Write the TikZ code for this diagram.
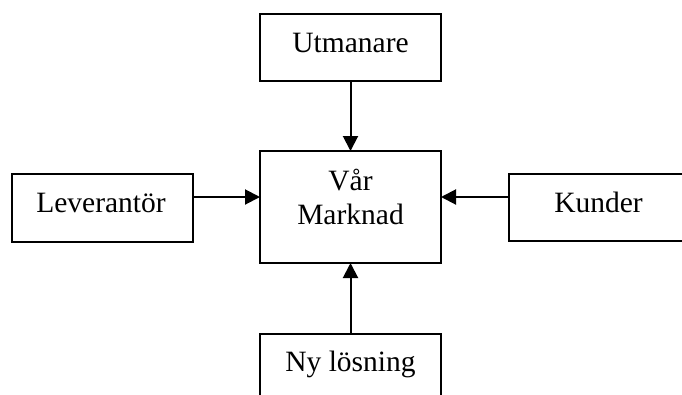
\documentclass[tikz,border=0pt]{standalone}
\usepackage{fontspec}
\setmainfont{Liberation Serif}
\usetikzlibrary{arrows.meta}
\begin{document}
\begin{tikzpicture}[x=1pt,y=-1pt,
  box/.style={draw=black,line width=2pt,inner sep=0pt,outer sep=0pt},
  lbl/.style={inner sep=0pt,outer sep=0pt,anchor=base,
    font=\fontsize{29.5}{34}\selectfont},
  arr/.style={line width=2pt,-{Triangle[length=15pt,width=15pt]}}]
  \useasboundingbox (0,0) rectangle (682,394);
  \clip (0,0) rectangle (682,394);
  % boxes
  \node[box,minimum width=181pt,minimum height=67pt] (U) at (350.5,47.5) {};
  \node[box,minimum width=181pt,minimum height=112pt] (C) at (350.5,207) {};
  \node[box,minimum width=181pt,minimum height=68pt] (L) at (102.5,208) {};
  \node[box,minimum width=180pt,minimum height=67pt] (K) at (599,207.5) {};
  \node[box,minimum width=181pt,minimum height=80pt] (N) at (350.5,374) {};
  % labels
  \node[lbl] (Ut) at (350.5,52) {Utmanare};
  \node[lbl] (Cv) at (350.5,190) {Vår};
  \node[lbl] (Cm) at (350.5,224) {Marknad};
  \node[lbl] (Lt) at (101,212) {Leverantör};
  \node[lbl] (Kt) at (598.5,212) {Kunder};
  \node[lbl] (Nt) at (350.5,371) {Ny lösning};
  % connectors
  \draw[arr] (U.south) -- (C.north);
  \draw[arr] (N.north) -- (C.south);
  \draw[arr] ([yshift=11pt]L.east) -- ([yshift=11pt]L.east -| C.west);
  \draw[arr] ([yshift=10.5pt]K.west) -- ([yshift=10.5pt]K.west -| C.east);
\end{tikzpicture}
\end{document}
